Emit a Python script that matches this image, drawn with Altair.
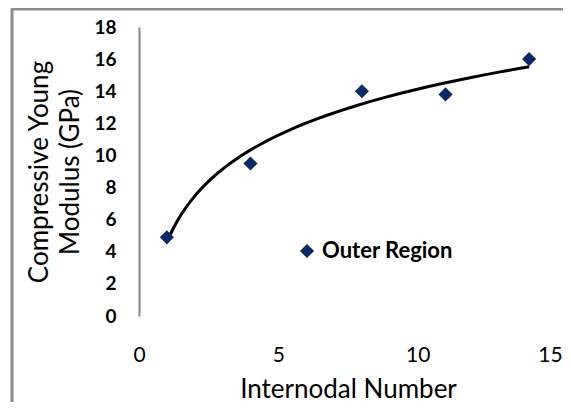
import altair as alt
import pandas as pd

# Data
internode = [1, 4, 8, 11, 14]
modulus = [4.9, 9.5, 14.0, 13.8, 16.0]
series = ["Outer Region"] * len(internode)

y_ticks = [0, 2, 4, 6, 8, 10, 12, 14, 16, 18]
x_ticks = [0, 5, 10, 15]

df = pd.DataFrame({"x": internode, "y": modulus, "series": series})

FONT = "Lato"

x_enc = alt.X(
    "x:Q",
    scale=alt.Scale(domain=[0, 15], nice=False),
    axis=alt.Axis(
        values=x_ticks,
        title="Internodal  Number",
        titleFont=FONT,
        titleFontSize=26,
        titleFontWeight="normal",
        titleColor="#000000",
        titleX=209,
        titleY=81,
        titleBaseline="alphabetic",
        labelFont=FONT,
        labelFontSize=21,
        labelColor="#000000",
        labelPadding=28,
        labelFlush=False,
        labelOffset={"condition": {"test": "datum.value == 15", "value": -7}, "value": 0},
        domain=False,
        ticks=False,
        grid=False,
    ),
)
y_enc = alt.Y(
    "y:Q",
    scale=alt.Scale(domain=[0, 18], nice=False),
    axis=alt.Axis(
        values=y_ticks,
        title=["Compressive Young", "Modulus (GPa)"],
        titleFont=FONT,
        titleFontSize=26,
        titleFontWeight="normal",
        titleColor="#000000",
        titleAngle=270,
        titleX=-92,
        titleY=144.5,
        titleAlign="center",
        titleBaseline="alphabetic",
        titleLineHeight=31,
        labelFont=FONT,
        labelFontSize=19,
        labelFontWeight="bold",
        labelColor="#000000",
        labelPadding=23,
        labelFlush=False,
        domain=True,
        domainColor="#868686",
        domainWidth=2,
        ticks=False,
        grid=False,
    ),
)

frame_src = pd.DataFrame({"a": [0]})
frame_left = alt.Chart(frame_src).mark_rule(color="#8c8c8c", strokeWidth=3).encode(
    x=alt.value(-127), y=alt.value(-18), y2=alt.value(400)
)
frame_top = alt.Chart(frame_src).mark_rule(color="#8c8c8c", strokeWidth=3).encode(
    x=alt.value(-128), x2=alt.value(440), y=alt.value(-18)
)

trend = (
    alt.Chart(df)
    .transform_regression("x", "y", method="log", extent=[1, 14])
    .mark_line(color="#000000", strokeWidth=3)
    .encode(x=x_enc, y=y_enc)
)

points = (
    alt.Chart(df)
    .mark_point(shape="diamond", filled=True, size=200, opacity=1)
    .encode(
        x=x_enc,
        y=y_enc,
        color=alt.Color(
            "series:N",
            scale=alt.Scale(range=["#0c2a66"]),
            legend=alt.Legend(
                title=None,
                orient="none",
                legendX=157,
                legendY=213,
                labelFont=FONT,
                labelFontSize=22,
                labelFontWeight="bold",
                labelColor="#000000",
                symbolType="diamond",
                symbolSize=200,
                symbolStrokeWidth=0,
                labelOffset=4,
                padding=0,
            ),
        ),
    )
)

chart = (
    alt.layer(frame_left, frame_top, trend, points)
    .properties(
        width=418,
        height=289,
        autosize=alt.AutoSizeParams(type="none"),
        padding={"left": 131, "top": 19, "right": 6, "bottom": 86},
        background="white",
    )
    .configure_view(strokeWidth=0)
)

chart.save("out.html", embed_options={"renderer": "svg", "actions": False})
